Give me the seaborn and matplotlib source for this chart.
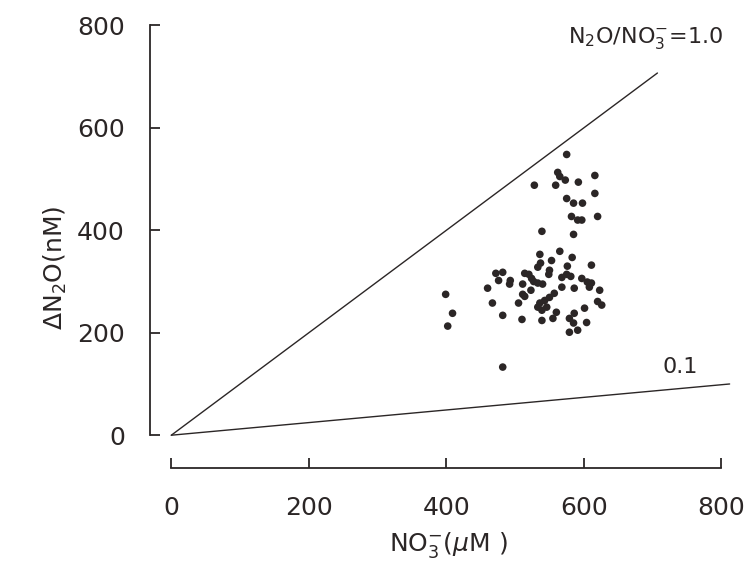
import matplotlib
matplotlib.use("Agg")
import matplotlib.pyplot as plt
import seaborn as sns
import pandas as pd

# NO3- (uM) and delta N2O (nM)
no3 = [575, 562, 565, 573, 616, 528, 559, 592, 616, 575, 585, 598, 582, 591, 597, 620,
       539, 585, 565, 536, 553, 583, 537, 533, 550, 549, 576, 611, 472, 482, 476, 493,
       492, 514, 520, 524, 527, 533, 540, 511, 568, 575, 581, 597, 605, 611, 608, 460,
       523, 568, 586, 623, 511, 514, 557, 550, 543, 399, 467, 505, 536, 533, 539, 546,
       620, 626, 601, 409, 482, 510, 539, 555, 560, 586, 579, 585, 604, 402, 579, 591,
       482]
dn2o = [548, 513, 505, 498, 507, 488, 488, 494, 472, 462, 453, 453, 427, 420, 420, 427,
        398, 392, 359, 353, 341, 347, 336, 328, 322, 314, 330, 332, 316, 318, 302, 302,
        295, 316, 314, 306, 300, 297, 295, 295, 308, 314, 310, 306, 299, 297, 289, 287,
        283, 289, 287, 283, 275, 271, 277, 269, 263, 275, 258, 258, 258, 250, 244, 250,
        261, 254, 248, 238, 234, 226, 224, 228, 240, 238, 228, 219, 220, 213, 201, 205,
        133]

# reference ratio lines (end points)
line_labels = ["1.0", "0.1"]
line_x = [[0, 707], [0, 812]]
line_y = [[0, 707], [0, 100]]

x_ticks = [0, 200, 400, 600, 800]
y_ticks = [0, 200, 400, 600, 800]

sns.set_style("white")
plt.rcParams["font.family"] = ["DejaVu Sans"]
ink = "#2b2626"

fig = plt.figure(figsize=(7.52, 5.65), dpi=100)
fig.patch.set_facecolor("white")
ax = fig.add_axes([150 / 752, (565 - 468) / 565, (742 - 150) / 752, (468 - 10) / 565])

df = pd.DataFrame({"NO3": no3, "N2O": dn2o})
sns.scatterplot(data=df, x="NO3", y="N2O", ax=ax, color=ink, s=30, edgecolor="none")

for lx, ly in zip(line_x, line_y):
    ax.plot(lx, ly, color=ink, lw=1.0)

ax.set_xlim(-31, 830)
ax.set_ylim(-64, 830)
ax.set_xticks(x_ticks)
ax.set_yticks(y_ticks)
ax.set_xlabel("")
ax.set_ylabel("")
for s in ["top", "right"]:
    ax.spines[s].set_visible(False)
for s in ["left", "bottom"]:
    ax.spines[s].set_color(ink)
    ax.spines[s].set_linewidth(1.3)
ax.spines["left"].set_bounds(0, 800)
ax.spines["bottom"].set_bounds(0, 800)
ax.tick_params(axis="both", direction="in", length=7, width=1.3, color=ink,
               labelcolor=ink, labelsize=18, bottom=True, left=True)
ax.tick_params(axis="y", pad=18)
ax.tick_params(axis="x", pad=20)

fig.text(55 / 752, 1 - 268 / 565, r"$\Delta$N$_2$O(nM)", rotation=90, ha="center",
         va="center", fontsize=18, color=ink)
fig.text(448 / 752, 1 - 545 / 565, r"NO$_3^{-}$($\mu$M )", ha="center", va="center",
         fontsize=18, color=ink)
fig.text(646 / 752, 1 - 38 / 565, r"N$_2$O/NO$_3^{-}$=" + line_labels[0], ha="center",
         va="center", fontsize=16, color=ink)
fig.text(680 / 752, 1 - 367 / 565, line_labels[1], ha="center", va="center",
         fontsize=16, color=ink)

fig.savefig("out.png", dpi=100)
